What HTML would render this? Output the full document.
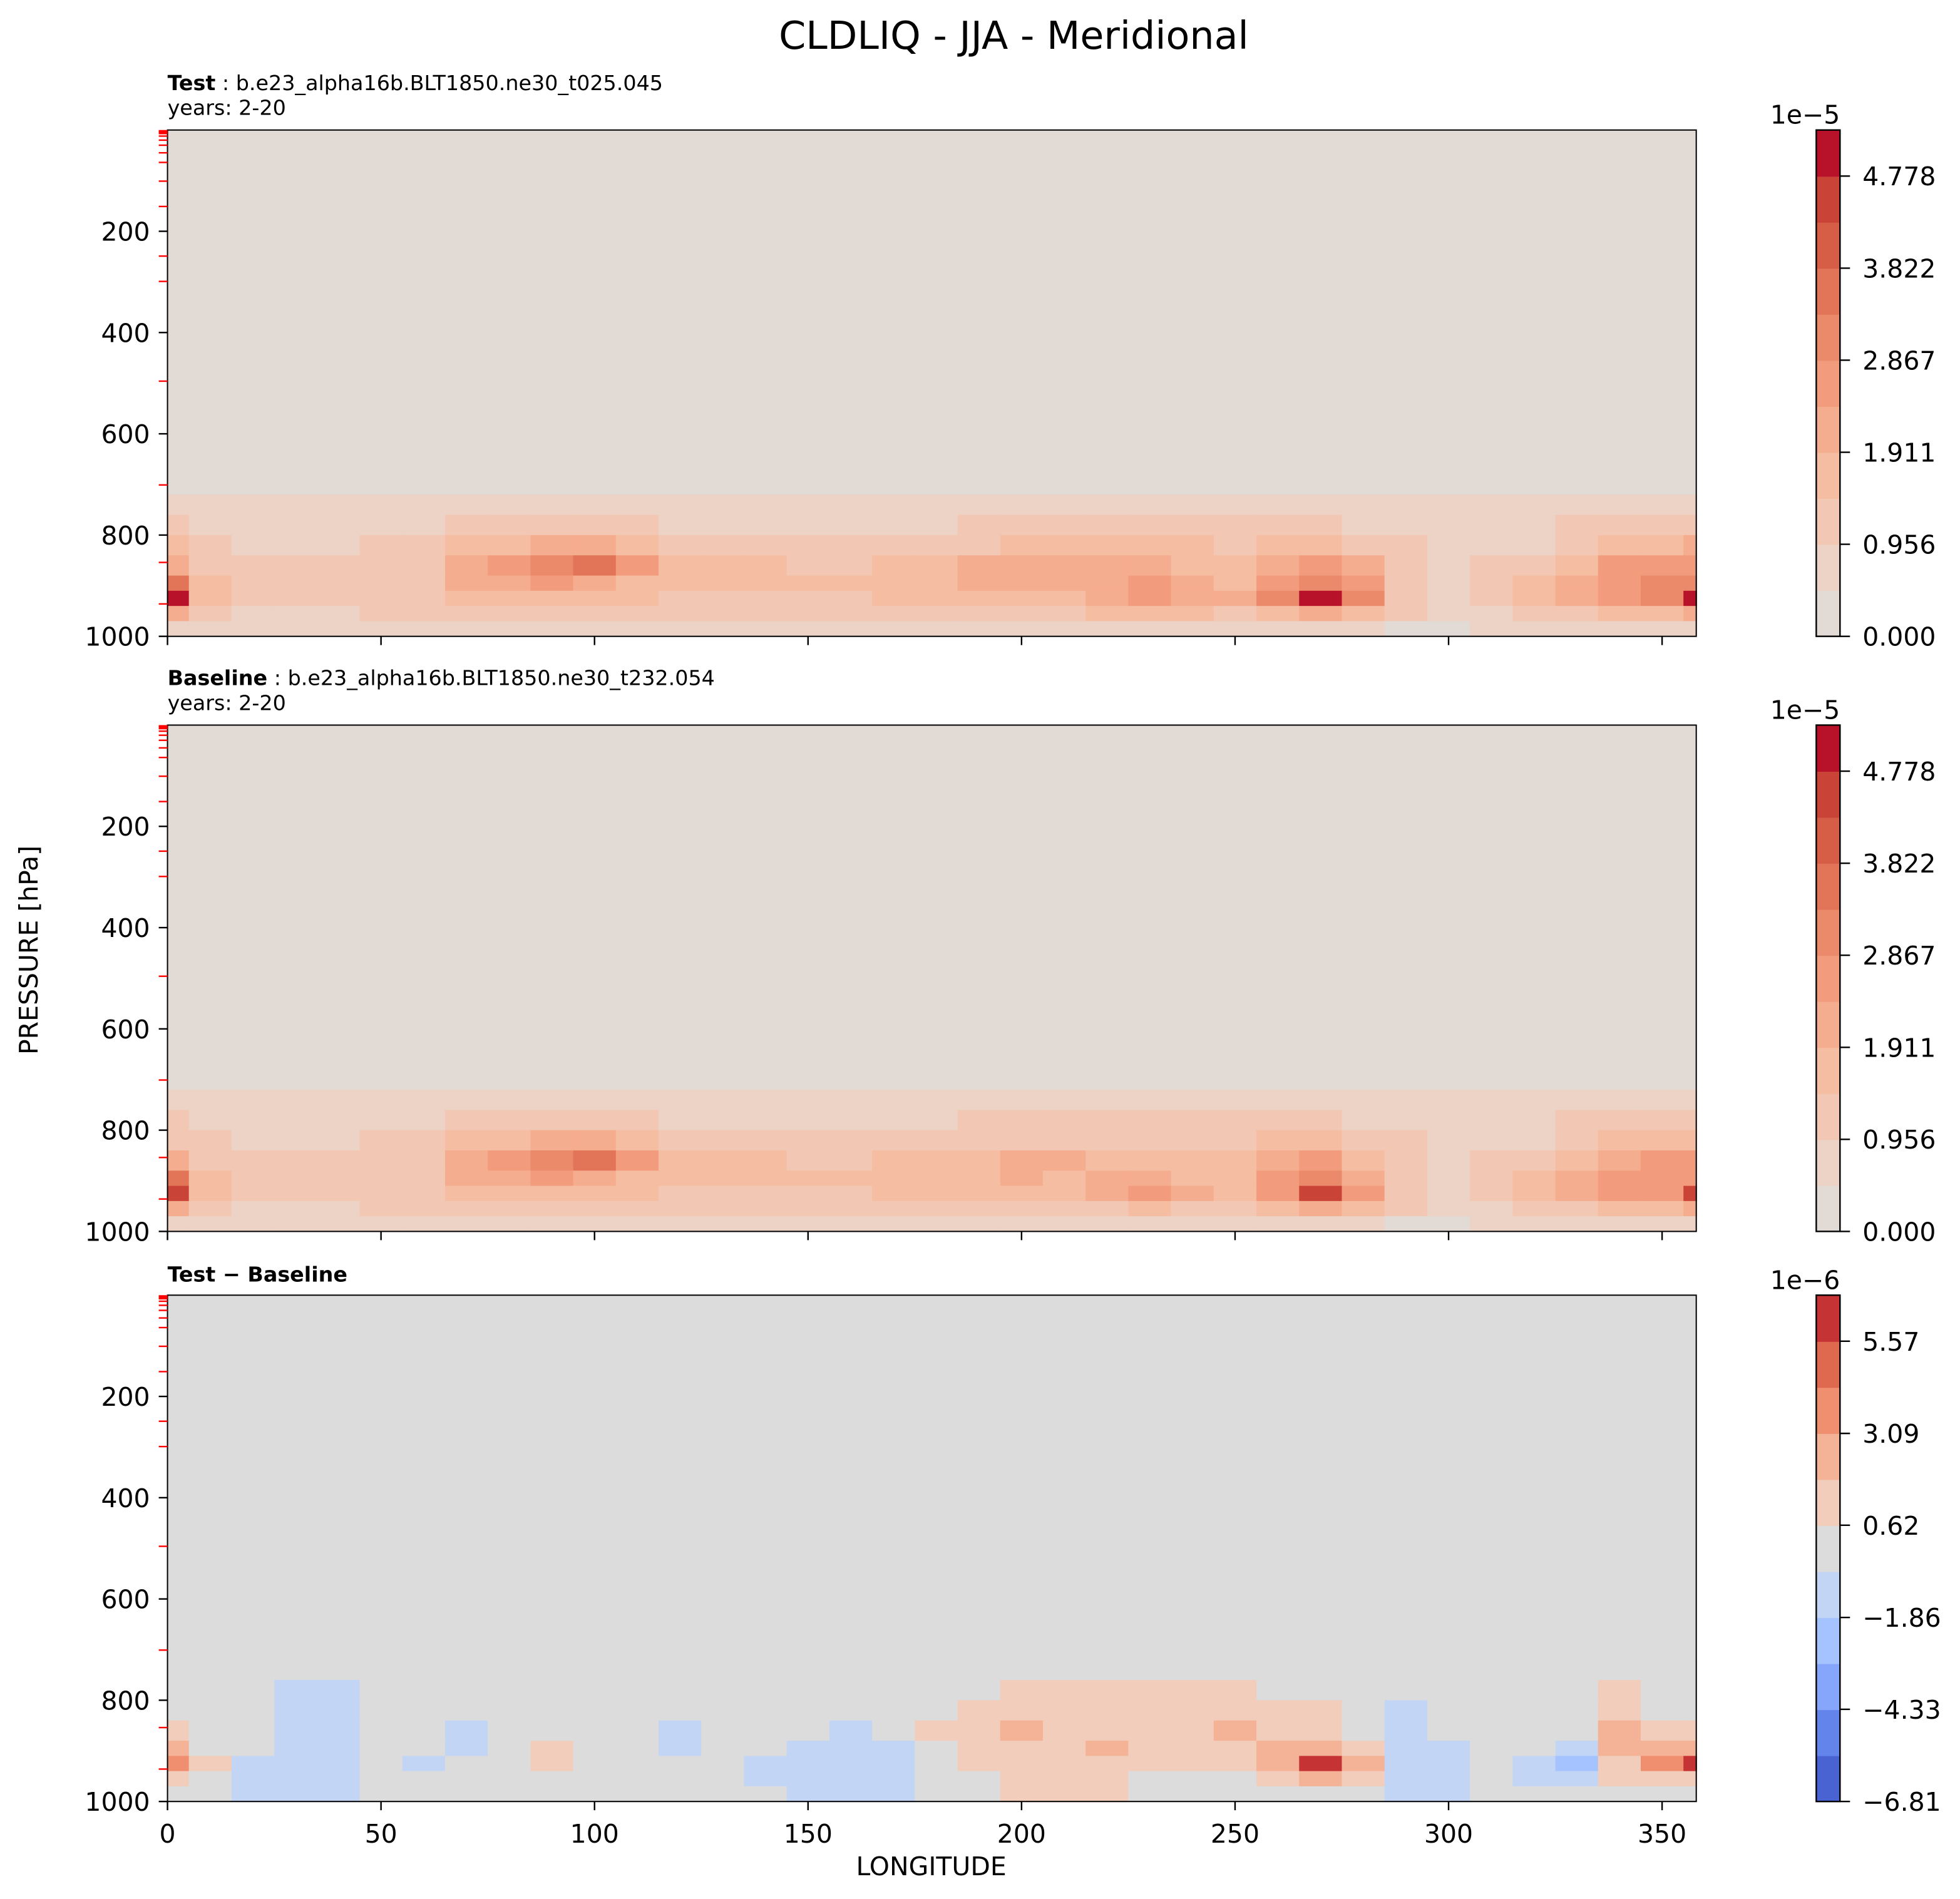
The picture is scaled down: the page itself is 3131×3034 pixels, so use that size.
<!DOCTYPE html>
<html><head><meta charset="utf-8"><style>
html,body{margin:0;padding:0;background:#fff}
svg{display:block;font-family:"DejaVu Sans","Liberation Sans",sans-serif}
</style></head><body>
<svg id="fig" width="3131" height="3034" viewBox="0 0 1568 1519" preserveAspectRatio="none" xmlns="http://www.w3.org/2000/svg">
<rect width="1568" height="1519" fill="#fff"/>
<text x="811" y="39" font-size="31" text-anchor="middle" fill="#000">CLDLIQ - JJA - Meridional</text>
<text x="30" y="760" font-size="20.5" text-anchor="middle" transform="rotate(-90 30 760)">PRESSURE [hPa]</text>
<text x="745" y="1500" font-size="20.5" text-anchor="middle">LONGITUDE</text>
<text x="134" y="72" font-size="16.7"><tspan font-weight="bold">Test</tspan> : b.e23_alpha16b.BLT1850.ne30_t025.045</text>
<text x="134" y="92" font-size="16.7">years: 2-20</text>
<text x="134" y="548" font-size="16.7"><tspan font-weight="bold">Baseline</tspan> : b.e23_alpha16b.BLT1850.ne30_t232.054</text>
<text x="134" y="568" font-size="16.7">years: 2-20</text>
<text x="134" y="1025" font-size="16.7" font-weight="bold">Test − Baseline</text>
<g id="plots"></g>
</svg>
<script>
const lons=[0,10,20,30,40,50,60,70,80,90,100,110,120,130,140,150,160,170,180,190,200,210,220,230,240,250,260,270,280,290,300,310,320,330,340,350,360];
const rowTop=[720,760,800,840,880,910,940,970];
const rowBot=[760,800,840,880,910,940,970,1000];
const testRows=[
[0.6,0.6,0.6,0.6,0.6,0.6,0.6,0.6,0.6,0.6,0.6,0.6,0.6,0.6,0.6,0.6,0.6,0.6,0.6,0.6,0.6,0.6,0.6,0.6,0.6,0.6,0.6,0.6,0.6,0.6,0.6,0.6,0.6,0.6,0.6,0.6,0.6],
[1.0,0.9,0.8,0.8,0.8,0.9,0.9,1.0,1.2,1.3,1.2,1.0,0.9,0.9,0.9,0.9,0.9,0.9,0.9,1.0,1.0,1.0,1.0,1.0,1.0,1.0,1.0,1.0,0.9,0.8,0.7,0.8,0.9,1.1,1.2,1.2,1.2],
[1.5,1.0,0.8,0.8,0.9,1.0,1.1,1.5,1.9,2.2,2.0,1.6,1.3,1.2,1.2,1.1,1.1,1.2,1.3,1.4,1.5,1.5,1.5,1.5,1.5,1.4,1.5,1.6,1.4,1.0,0.9,0.8,0.9,1.4,1.8,1.9,2.0],
[2.2,1.3,1.0,1.1,1.2,1.3,1.4,2.0,2.6,3.2,3.4,2.4,1.7,1.5,1.5,1.4,1.4,1.5,1.6,2.0,2.2,2.1,2.0,2.0,1.9,1.8,2.2,2.5,2.0,1.2,0.9,1.0,1.2,1.8,2.4,2.6,2.6],
[3.5,1.6,1.0,1.1,1.2,1.3,1.4,2.0,2.3,2.5,2.3,1.8,1.5,1.5,1.5,1.5,1.5,1.6,1.9,2.0,2.1,2.0,2.3,2.6,2.0,1.9,2.6,3.3,2.4,1.2,0.7,1.0,1.5,2.0,2.6,2.9,3.0],
[4.8,1.8,1.0,1.0,1.1,1.2,1.3,1.8,1.8,1.9,1.8,1.5,1.4,1.4,1.4,1.4,1.4,1.5,1.8,1.9,1.9,1.9,2.2,2.8,2.2,2.0,3.0,5.0,3.0,1.2,0.7,1.0,1.5,2.0,2.6,3.0,5.0],
[2.2,1.2,0.8,0.8,0.9,1.0,1.0,1.1,1.2,1.2,1.2,1.1,1.0,1.0,1.0,1.0,1.0,1.1,1.2,1.3,1.4,1.4,1.5,1.6,1.5,1.4,1.7,2.2,1.7,1.0,0.6,0.8,1.0,1.3,1.6,1.8,2.2],
[0.7,0.6,0.5,0.5,0.6,0.6,0.6,0.6,0.6,0.6,0.6,0.6,0.6,0.6,0.6,0.5,0.5,0.6,0.6,0.7,0.7,0.7,0.7,0.7,0.7,0.7,0.7,0.7,0.6,0.4,0.4,0.5,0.6,0.6,0.7,0.7,0.7]];
const baseRows=[
[0.6,0.6,0.6,0.6,0.6,0.6,0.6,0.6,0.6,0.6,0.6,0.6,0.6,0.6,0.6,0.6,0.6,0.6,0.6,0.6,0.6,0.6,0.6,0.6,0.6,0.6,0.6,0.6,0.6,0.6,0.6,0.6,0.6,0.6,0.6,0.6,0.6],
[1.0,0.9,0.8,0.8,0.8,0.9,0.9,1.0,1.2,1.3,1.2,1.0,0.9,0.9,0.9,0.9,0.9,0.9,0.9,1.0,1.0,1.0,1.0,1.0,1.0,1.0,1.0,1.0,0.9,0.8,0.7,0.8,0.9,1.0,1.1,1.2,1.2],
[1.4,1.0,0.8,0.8,0.9,1.0,1.1,1.5,1.9,2.2,2.0,1.6,1.3,1.2,1.2,1.1,1.1,1.2,1.3,1.3,1.4,1.4,1.4,1.4,1.4,1.4,1.5,1.6,1.3,1.0,0.9,0.8,0.9,1.3,1.7,1.8,1.9],
[2.1,1.3,1.0,1.1,1.2,1.3,1.4,2.0,2.6,3.2,3.4,2.4,1.7,1.5,1.5,1.4,1.4,1.5,1.6,1.9,2.0,2.0,1.9,1.9,1.8,1.7,2.1,2.4,1.9,1.2,0.9,1.0,1.2,1.7,2.2,2.4,2.5],
[3.4,1.6,1.0,1.1,1.2,1.3,1.4,2.0,2.3,2.5,2.3,1.8,1.5,1.5,1.5,1.5,1.5,1.6,1.8,1.9,2.0,1.9,2.0,2.3,1.9,1.8,2.4,3.1,2.3,1.2,0.7,1.0,1.5,2.0,2.5,2.6,2.8],
[4.6,1.8,1.0,1.0,1.1,1.2,1.3,1.8,1.8,1.9,1.8,1.5,1.4,1.4,1.4,1.4,1.4,1.5,1.7,1.8,1.8,1.8,2.0,2.5,2.0,1.9,2.8,4.5,2.8,1.2,0.7,1.0,1.5,2.0,2.5,2.7,4.5],
[2.1,1.2,0.8,0.8,0.9,1.0,1.0,1.1,1.2,1.2,1.2,1.1,1.0,1.0,1.0,1.0,1.0,1.1,1.2,1.3,1.3,1.3,1.4,1.5,1.4,1.3,1.6,2.0,1.6,1.0,0.6,0.8,1.0,1.3,1.5,1.7,2.0],
[0.7,0.6,0.5,0.5,0.6,0.6,0.6,0.6,0.6,0.6,0.6,0.6,0.6,0.6,0.6,0.5,0.5,0.6,0.6,0.7,0.7,0.7,0.7,0.7,0.7,0.7,0.7,0.7,0.6,0.4,0.4,0.5,0.6,0.6,0.7,0.7,0.7]];
const diffRows=[
[0,0,0,0,0,0,0,0,0,0,0,0,0,0,0,0,0,0,0,0,0,0,0,0,0,0,0,0,0,0,0,0,0,0,0,0,0],
[0,0,0,-1,-1,0,0,0,0,0,0,0,0,0,0,0,0,0,0,0,0.8,0.8,0.8,0.8,0.8,0.8,0,0,0,0,0,0,0,0,0.8,0,0],
[0,0,0,-1,-1,0,0,0,0,0,0,0,0,0,0,0,0,0,0,0.8,0.8,0.8,0.8,0.8,0.8,0.8,0.8,0.8,0,-1,0,0,0,0,0.8,0,0],
[0.8,0,0,-1,-1,0,0,-1,0,0,0,0,-1,0,0,0,-1,0,0.8,1.5,2,1,1.2,1.5,1.5,2.2,1.3,1,0,-1,0,0,0,0,2,1.2,0.8],
[2,0,0,-1,-1,0,0,-1,0,0.8,0,0,-1,0,0,-1,-1,-1,0,1,1.2,1,2,1.5,1.5,1.5,2.5,3,1.5,-1,-1,0,0,-1.5,2,3,3],
[3.5,1,-1,-1,-1,0,-1,0,0,0.8,0,0,0,0,-1,-1,-1,-1,0,1,1,1,1.5,1,1,1,3,6,2,-1,-1,0,-1,-3,1.5,3.5,6],
[1,0,-1,-1,-1,0,0,0,0,0,0,0,0,0,-1,-1,-1,-1,0,0,1,1,1,0,0,0,1.5,2,0.8,-1,-1,0,-1,-1,0.8,1.5,1.5],
[0,0,-1,-1,-1,0,0,0,0,0,0,0,0,0,0,-1,-1,-1,0,0,0.8,0.8,0.8,0,0,0,0,0,0,-1,-1,0,0,0,0,0,0]];
const absTicks=[0.000,0.956,1.911,2.867,3.822,4.778];
const absTickLabels=["0.000","0.956","1.911","2.867","3.822","4.778"];
const diffTicks=[-6.81,-4.33,-1.86,0.62,3.09,5.57];
const diffTickLabels=["−6.81","−4.33","−1.86","0.62","3.09","5.57"];
const xTicks=[0,50,100,150,200,250,300,350];
const yTicks=[200,400,600,800,1000];
const levelTicks=[3,7,12,20,30,45,64,101,151,249,299,496,701,854,936];
const absColors=['#e2dad5','#ecd3c5','#f2c8b4','#f5bda2','#f5ad8f','#f29c7d','#eb8a6a','#e27558','#d65e47','#c94437','#b8122a'];
const diffColors=['#4a63d3','#6384eb','#85a6fa','#a5c3fe','#c3d5f4','#dcdcdc','#f2cdbb','#f4b296','#ef8f70','#de694f','#c53334'];
const NS='http://www.w3.org/2000/svg';
const root=document.getElementById('plots');
function mk(tag,attrs,parent){const e=document.createElementNS(NS,tag);for(const k in attrs)e.setAttribute(k,attrs[k]);(parent||root).appendChild(e);return e;}
const X0=134,X1=1357,CB0=1453,CB1=1472,FS=20.5;
function xs(l){return X0+(l/358)*(X1-X0);}
function panel(name,top,rows,colors,vmin,step,ticks,tickLabels,expo,last){
  const bot=top+405;
  const ys=p=>top+(p/1000)*405;
  const g=mk('g',{});
  
  
  const idx=v=>Math.max(0,Math.min(colors.length-1,Math.floor((v-vmin)/step)));
  const bg=mk('rect',{x:X0,y:top,width:X1-X0,height:405,fill:colors[idx(0)]},g);
  
  
  rows.forEach((row,r)=>{row.forEach((v,i)=>{
    const a=Math.max(0,lons[i]-5),b=Math.min(358,lons[i]+5);
    if(b<=a)return;
    const c=mk('rect',{x:xs(a),y:ys(rowTop[r]),width:xs(b)-xs(a)+0.6,height:ys(rowBot[r])-ys(rowTop[r])+0.6,fill:colors[idx(v)]},g);
    
    
  });});
  const fr=mk('rect',{x:X0,y:top,width:X1-X0,height:405,fill:'none',stroke:'#000','stroke-width':1},g);
  
  
  levelTicks.forEach(p=>{const t=mk('line',{x1:X0-7,x2:X0,y1:ys(p),y2:ys(p),stroke:'#f00','stroke-width':1.2},g);
    
    });
  mk('rect',{x:X0-7,y:top,width:7,height:3,fill:'#f00'},g);
  yTicks.forEach(p=>{mk('line',{x1:X0-7,x2:X0,y1:ys(p),y2:ys(p),stroke:'#000','stroke-width':1.2},g);
    const t=mk('text',{x:X0-14,y:ys(p)+7.5,'font-size':FS,'text-anchor':'end'},g);t.textContent=p;
    
    });
  xTicks.forEach(l=>{mk('line',{x1:xs(l),x2:xs(l),y1:bot,y2:bot+7,stroke:'#000','stroke-width':1.2},g);
    if(last){const t=mk('text',{x:xs(l),y:bot+33,'font-size':FS,'text-anchor':'middle'},g);t.textContent=l;
      
      }});
  const n=colors.length,bh=405/n;
  colors.forEach((c,i)=>{const r=mk('rect',{x:CB0,y:bot-(i+1)*bh,width:CB1-CB0,height:bh+0.5,fill:c},g);
    
    });
  mk('rect',{x:CB0,y:top,width:CB1-CB0,height:405,fill:'none',stroke:'#000','stroke-width':1.2},g);
  ticks.forEach((v,i)=>{const y=bot-(v-vmin)/step*bh;
    mk('line',{x1:CB1,x2:CB1+8,y1:y,y2:y,stroke:'#000','stroke-width':1.2},g);
    const t=mk('text',{x:CB1+18,y:y+7.5,'font-size':FS},g);t.textContent=tickLabels[i];
    
    });
  const e=mk('text',{x:CB1,y:top-5,'font-size':FS,'text-anchor':'end'},g);e.textContent=expo;
  
  
}
panel('test',104,testRows,absColors,0,0.4778,absTicks,absTickLabels,'1e−5',false);
panel('baseline',580,baseRows,absColors,0,0.4778,absTicks,absTickLabels,'1e−5',false);
panel('difference',1036,diffRows,diffColors,-6.81,1.238,diffTicks,diffTickLabels,'1e−6',true);
</script>
</body></html>
